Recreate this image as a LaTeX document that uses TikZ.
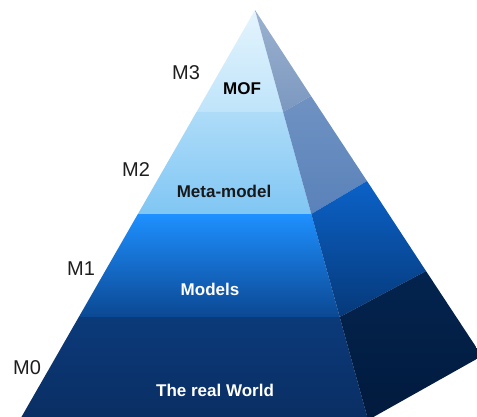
\documentclass[tikz,border=0pt]{standalone}
\usepackage{fontspec}
\setmainfont{Liberation Sans}
\definecolor{mofTop}{HTML}{E4F4FD}
\definecolor{mofBot}{HTML}{BFE4FA}
\definecolor{metaTop}{HTML}{AEDCF8}
\definecolor{metaBot}{HTML}{80C6F4}
\definecolor{modTop}{HTML}{1E90FF}
\definecolor{modMid}{HTML}{1476E0}
\definecolor{modBot}{HTML}{0B4893}
\definecolor{worTop}{HTML}{0B3A7A}
\definecolor{worBot}{HTML}{0A2E63}
\definecolor{smofTop}{HTML}{9BB2CF}
\definecolor{smofBot}{HTML}{7C98C0}
\definecolor{smetaTop}{HTML}{6F92C2}
\definecolor{smetaBot}{HTML}{5A82BA}
\definecolor{smodTop}{HTML}{0B62C8}
\definecolor{smodBot}{HTML}{06397A}
\definecolor{sworTop}{HTML}{03244F}
\definecolor{sworBot}{HTML}{021A3D}
\definecolor{lvlText}{HTML}{1E1E1E}
\begin{document}
\begin{tikzpicture}[x=1pt,y=-1pt,
  lvl/.style={font=\fontsize{20}{24}\selectfont, text=lvlText, inner sep=0pt},
  layer/.style={font=\fontsize{17}{20}\selectfont\bfseries, inner sep=0pt}]
\useasboundingbox (0,0) rectangle (477,416);
\clip (0,0) rectangle (477,416);
% apex and edges
\coordinate (A) at (255,10);
\coordinate (F0) at (196.5,112);
\coordinate (F1) at (137.9,214);
\coordinate (F2) at (78.8,317);
\coordinate (F3) at (19.7,420);
\coordinate (G0) at (283.1,112);
\coordinate (G1) at (311.3,214);
\coordinate (G2) at (339.7,317);
\coordinate (G3) at (368.1,420);
\coordinate (S0) at (311,96);
\coordinate (S1) at (367,181);
\coordinate (S2) at (426,271);
\coordinate (S3) at (482,356);
% front face layers
\shade[top color=mofTop, bottom color=mofBot] (A) -- (G0) -- (F0) -- cycle;
\shade[top color=metaTop, bottom color=metaBot] (F0) -- (G0) -- (G1) -- (F1) -- cycle;
\shade[top color=modTop, middle color=modMid, bottom color=modBot] (F1) -- (G1) -- (G2) -- (F2) -- cycle;
\shade[top color=worTop, bottom color=worBot] (F2) -- (G2) -- (G3) -- (F3) -- cycle;
% side face layers
\shade[top color=smofTop, bottom color=smofBot] (A) -- (S0) -- (G0) -- cycle;
\shade[top color=smetaTop, bottom color=smetaBot] (G0) -- (S0) -- (S1) -- (G1) -- cycle;
\shade[top color=smodTop, bottom color=smodBot] (G1) -- (S1) -- (S2) -- (G2) -- cycle;
\shade[top color=sworTop, bottom color=sworBot] (G2) -- (S2) -- (S3) -- (G3) -- cycle;
% level labels
\node[lvl] (m3) at (186,73) {M3};
\node[lvl] (m2) at (136,170) {M2};
\node[lvl] (m1) at (81,269) {M1};
\node[lvl] (m0) at (27,368) {M0};
% layer names
\node[layer, text=black] (mof) at (242,89) {MOF};
\node[layer, text=black!90] (meta) at (224,191) {Meta-model};
\node[layer, text=white] (models) at (210,289) {Models};
\node[layer, text=white] (world) at (215,390) {The real World};
\end{tikzpicture}
\end{document}
